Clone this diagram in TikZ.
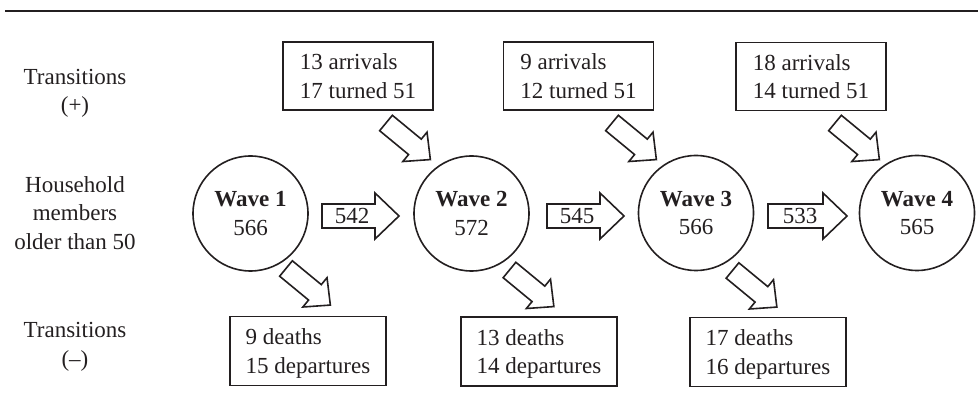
\documentclass[tikz,border=0pt]{standalone}
\usepackage{fontspec}
\setmainfont{Liberation Serif}
\definecolor{ink}{RGB}{35,31,32}
\newcommand{\barrow}[6]{%
  \draw[arrowline, shift={#1}, rotate=#2]
    (0,-#4) -- ({#3-#6},-#4) -- ({#3-#6},-#5) -- (#3,0) --
    ({#3-#6},#5) -- ({#3-#6},#4) -- (0,#4) -- cycle;}
\begin{document}
\begin{tikzpicture}[x=1pt,y=-1pt,
  every node/.style={text=ink, font=\fontsize{23}{28.5}\selectfont, inner sep=0pt},
  lbl/.style={align=center},
  topbox/.style={draw=ink, line width=1.8pt, rectangle, minimum width=150pt, minimum height=68pt, align=left},
  botbox/.style={draw=ink, line width=1.8pt, rectangle, minimum width=156pt, minimum height=69pt, align=left, text depth=0pt},
  wave/.style={draw=ink, line width=1.6pt, circle, minimum size=115pt, align=center},
  arrowline/.style={draw=ink, line width=1.6pt, line join=miter, fill=white}
]
\useasboundingbox (0,0) rectangle (978,403);
\coordinate (ruleL) at (5,11);
\coordinate (ruleR) at (978,11);
\draw[draw=ink, line width=2.7pt] (ruleL) -- (ruleR);

% left labels
\node[lbl] (lplus) at (75,93.2) {Transitions\\(+)};
\node[lbl] (lmid) at (75,212.7) {Household\\members\\older than 50};
\node[lbl] (lminus) at (75,346.7) {Transitions\\(–)};

% waves
\node[wave] (w1) at (250.5,213.5) {\textbf{Wave 1}\\566};
\node[wave] (w2) at (471.5,213.5) {\textbf{Wave 2}\\572};
\node[wave] (w3) at (696,213) {\textbf{Wave 3}\\566};
\node[wave] (w4) at (917,213) {\textbf{Wave 4}\\565};

% top boxes
\node[topbox] (t1) at (358,76) {13 arrivals\\17 turned 51};
\node[topbox] (t2) at (578.5,76) {9 arrivals\\12 turned 51};
\node[topbox] (t3) at (811,76.5) {18 arrivals\\14 turned 51};

% bottom boxes
\node[botbox] (b1) at (308,351) {9 deaths\\15 departures};
\node[botbox] (b2) at (539,351.5) {13 deaths\\14 departures};
\node[botbox] (b3) at (768,352) {17 deaths\\16 departures};

% horizontal block arrows
\coordinate (h1) at (322,216);
\coordinate (h2) at (547,216);
\coordinate (h3) at (768,216);
\barrow{(h1)}{0}{77}{12}{23}{24}
\barrow{(h2)}{0}{77}{12}{23}{24}
\barrow{(h3)}{0}{79}{12}{23}{24}
\node (n1) at (352,216) {542};
\node (n2) at (577,216) {545};
\node (n3) at (800,216) {533};

% diagonal block arrows (in)
\coordinate (d1) at (386,123);
\coordinate (d2) at (612,123);
\coordinate (d3) at (835,123);
\barrow{(d1)}{-39.5}{57.5}{10}{19}{20}
\barrow{(d2)}{-39.5}{57.5}{10}{19}{20}
\barrow{(d3)}{-39.5}{57.5}{10}{19}{20}

% diagonal block arrows (out)
\coordinate (e1) at (286,268.5);
\coordinate (e2) at (509.5,270);
\coordinate (e3) at (732.5,270.5);
\barrow{(e1)}{-39.5}{57.5}{10}{19}{20}
\barrow{(e2)}{-39.5}{57.5}{10}{19}{20}
\barrow{(e3)}{-39.5}{57.5}{10}{19}{20}
\end{tikzpicture}
\end{document}
